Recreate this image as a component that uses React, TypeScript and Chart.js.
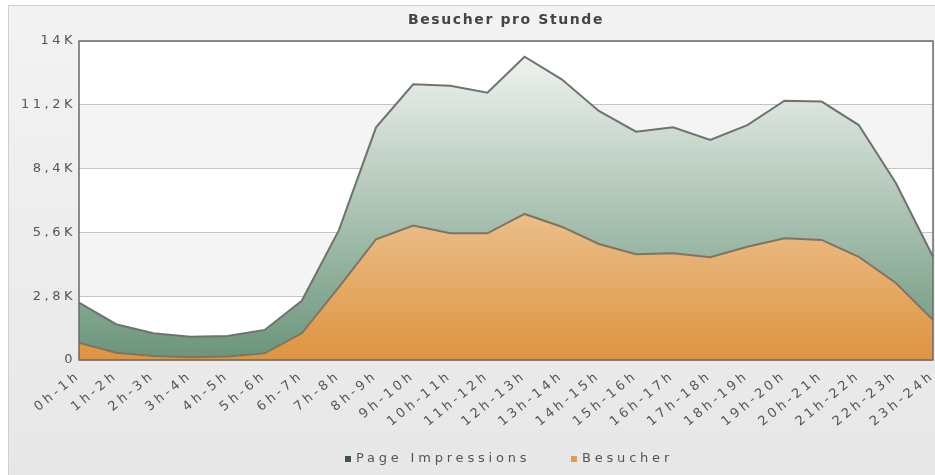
import React, { useEffect, useRef } from 'react';
import { Chart, registerables } from 'chart.js';

Chart.register(...registerables);

const chartTitle = 'Besucher pro Stunde';
const categories = [
  '0h-1h', '1h-2h', '2h-3h', '3h-4h', '4h-5h', '5h-6h', '6h-7h', '7h-8h',
  '8h-9h', '9h-10h', '10h-11h', '11h-12h', '12h-13h', '13h-14h', '14h-15h', '15h-16h',
  '16h-17h', '17h-18h', '18h-19h', '19h-20h', '20h-21h', '21h-22h', '22h-23h', '23h-24h',
];
const pageImpressions = [
  2520, 1570, 1170, 1020, 1050, 1320, 2600, 5700,
  10210, 12100, 12040, 11730, 13310, 12320, 10930, 10020,
  10210, 9660, 10310, 11380, 11340, 10310, 7770, 4530,
];
const besucher = [
  760, 320, 180, 120, 150, 290, 1170, 3200,
  5300, 5900, 5560, 5560, 6410, 5850, 5090, 4640,
  4680, 4510, 4970, 5340, 5270, 4530, 3380, 1760,
];
const yTicks = [0, 2800, 5600, 8400, 11200, 14000];
const seriesNames = ['Page Impressions', 'Besucher'];

const FONT = '"DejaVu Sans", Verdana, sans-serif';

function fmtK(v: number): string {
  if (v === 0) return '0';
  const k = v / 1000;
  const s = Number.isInteger(k) ? String(k) : k.toFixed(1);
  return s.replace('.', ',') + 'K';
}

function vGrad(chart: any, top: string, bottom: string, fallback: string) {
  const area = chart.chartArea;
  if (!area) return fallback;
  const g = chart.ctx.createLinearGradient(0, area.top, 0, area.bottom);
  g.addColorStop(0, top);
  g.addColorStop(1, bottom);
  return g;
}

const decorPlugin = {
  id: 'decor',
  beforeDraw(chart: any) {
    const { ctx, width, height, chartArea: a } = chart;
    ctx.save();
    const pg = ctx.createLinearGradient(0, 0, 0, height);
    pg.addColorStop(0, '#f3f3f3');
    pg.addColorStop(1, '#e7e7e7');
    ctx.fillStyle = '#ffffff';
    ctx.fillRect(0, 0, width, height);
    ctx.fillStyle = pg;
    ctx.fillRect(8, 5, width - 8, height - 5);
    ctx.strokeStyle = '#cfcfcf';
    ctx.lineWidth = 1;
    ctx.beginPath();
    ctx.moveTo(8.5, height);
    ctx.lineTo(8.5, 5.5);
    ctx.lineTo(width, 5.5);
    ctx.stroke();
    const ys = chart.scales.y;
    for (let i = 0; i < yTicks.length - 1; i++) {
      const y0 = ys.getPixelForValue(yTicks[i]);
      const y1 = ys.getPixelForValue(yTicks[i + 1]);
      ctx.fillStyle = i % 2 === 1 ? '#f4f4f4' : '#ffffff';
      ctx.fillRect(a.left, y1, a.right - a.left, y0 - y1);
    }
    ctx.restore();
    ctx.letterSpacing = '3.5px';
  },
  afterDraw(chart: any) {
    const { ctx, chartArea: a } = chart;
    ctx.save();
    ctx.letterSpacing = '0px';
    ctx.strokeStyle = '#6a6a6a';
    ctx.lineWidth = 1.5;
    ctx.strokeRect(a.left, a.top, a.right - a.left, a.bottom - a.top);
    // title
    ctx.fillStyle = '#444444';
    ctx.font = `bold 14px ${FONT}`;
    ctx.letterSpacing = '1.6px';
    ctx.textAlign = 'center';
    ctx.textBaseline = 'middle';
    ctx.fillText(chartTitle, (a.left + a.right) / 2, 20);
    // legend
    ctx.font = `13px ${FONT}`;
    ctx.letterSpacing = '3.8px';
    ctx.textAlign = 'left';
    const items = [
      { x: 345, color: '#3f5547', text: seriesNames[0] },
      { x: 571, color: '#e39a52', text: seriesNames[1] },
    ];
    for (const it of items) {
      ctx.fillStyle = it.color;
      ctx.fillRect(it.x, 456, 6, 6);
      ctx.fillStyle = '#555555';
      ctx.fillText(it.text, it.x + 11, 459);
    }
    ctx.restore();
  },
};

export default function App() {
  const ref = useRef<HTMLCanvasElement | null>(null);

  useEffect(() => {
    if (!ref.current) return;
    const chart = new Chart(ref.current, {
      type: 'line',
      data: {
        labels: categories,
        datasets: [
          {
            label: seriesNames[0],
            data: pageImpressions,
            order: 2,
            fill: 'origin',
            borderColor: '#6e736f',
            borderWidth: 2,
            pointRadius: 0,
            tension: 0,
            backgroundColor: (c: any) => vGrad(c.chart, '#f6f7f5', '#6a957a', '#9fb8a6'),
          },
          {
            label: seriesNames[1],
            data: besucher,
            order: 1,
            fill: 'origin',
            borderColor: '#7f7462',
            borderWidth: 2,
            pointRadius: 0,
            tension: 0,
            backgroundColor: (c: any) => vGrad(c.chart, '#fbf0e2', '#de9440', '#e9b27a'),
          },
        ],
      },
      options: {
        responsive: false,
        animation: false,
        layout: { padding: { top: 41, right: 2, left: 0, bottom: 0 } },
        plugins: {
          legend: { display: false },
          title: { display: false },
          tooltip: { enabled: false },
        },
        scales: {
          x: {
            offset: false,
            grid: { display: false, drawTicks: false },
            border: { display: false },
            ticks: {
              autoSkip: false,
              minRotation: 39,
              maxRotation: 39,
              padding: 8,
              color: '#555555',
              font: { family: FONT, size: 13 },
            },
            afterFit: (s: any) => {
              s.height = 115;
              s.paddingLeft = 0;
              s.paddingRight = 0;
            },
          },
          y: {
            min: 0,
            max: 14000,
            afterBuildTicks: (s: any) => { s.ticks = yTicks.map((v) => ({ value: v })); },
            grid: { color: '#c4c4c4', lineWidth: 1, drawTicks: false },
            border: { display: false },
            ticks: {
              padding: 3,
              color: '#555555',
              font: { family: FONT, size: 13 },
              callback: (v: any) => fmtK(Number(v)),
            },
            afterFit: (s: any) => {
              s.width = 79;
              s.paddingTop = 0;
              s.paddingBottom = 0;
            },
          },
        },
      },
      plugins: [decorPlugin],
    });
    return () => chart.destroy();
  }, []);

  return (
    <div style={{ position: 'fixed', left: 0, top: 0, width: 935, height: 475 }}>
      <canvas ref={ref} width={935} height={475} style={{ width: 935, height: 475, display: 'block' }} />
    </div>
  );
}
